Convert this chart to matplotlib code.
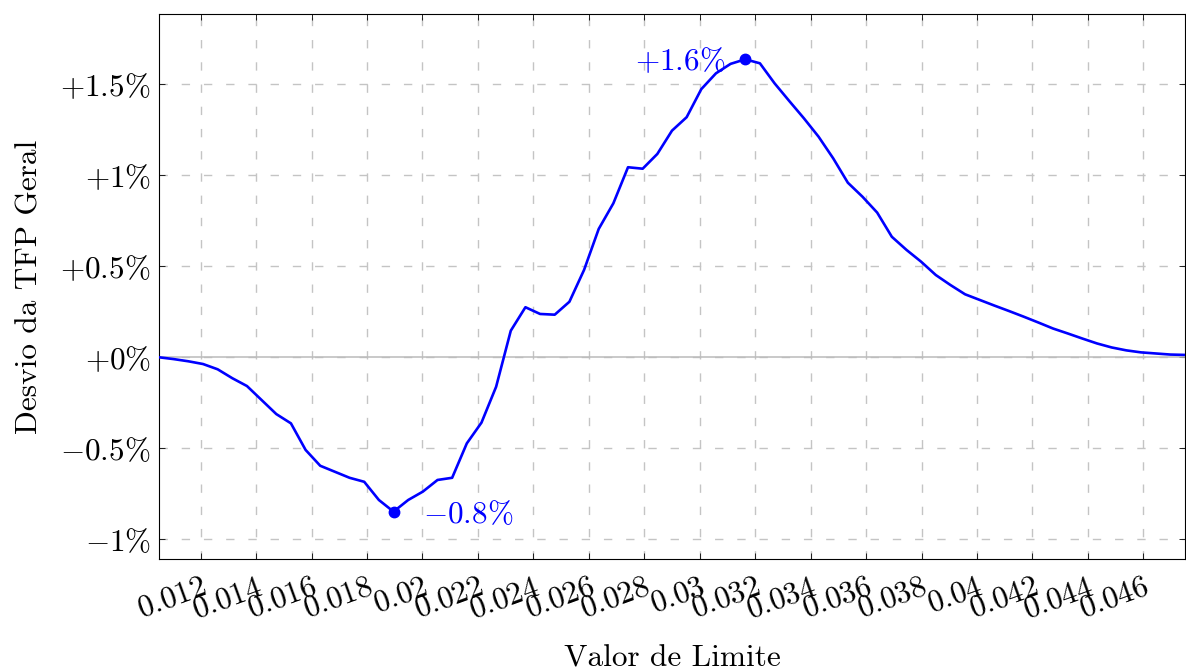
import matplotlib
matplotlib.use('Agg')
import matplotlib.pyplot as plt
import numpy as np

plt.rcParams['font.family'] = 'serif'
plt.rcParams['font.serif'] = ['cmr10', 'DejaVu Serif']
plt.rcParams['mathtext.fontset'] = 'cm'
plt.rcParams['axes.unicode_minus'] = False

# valor de limite (x) e desvio da TFP geral em % (y)
limite = [0.010500, 0.011029, 0.011557, 0.012086, 0.012614, 0.013143, 0.013671, 0.014200,
          0.014729, 0.015257, 0.015786, 0.016314, 0.016843, 0.017371, 0.017900, 0.018429,
          0.018957, 0.019486, 0.020014, 0.020543, 0.021071, 0.021600, 0.022129, 0.022657,
          0.023186, 0.023714, 0.024243, 0.024771, 0.025300, 0.025829, 0.026357, 0.026886,
          0.027414, 0.027943, 0.028471, 0.029000, 0.029529, 0.030057, 0.030586, 0.031114,
          0.031643, 0.032171, 0.032700, 0.033229, 0.033757, 0.034286, 0.034814, 0.035343,
          0.035871, 0.036400, 0.036929, 0.037457, 0.037986, 0.038514, 0.039043, 0.039571,
          0.040100, 0.040629, 0.041157, 0.041686, 0.042214, 0.042743, 0.043271, 0.043800,
          0.044329, 0.044857, 0.045386, 0.045914, 0.046443, 0.046971, 0.047500]
desvio = [0.000, -0.010, -0.022, -0.037, -0.066, -0.115, -0.158, -0.235,
          -0.312, -0.363, -0.509, -0.596, -0.629, -0.662, -0.684, -0.784,
          -0.848, -0.784, -0.738, -0.674, -0.662, -0.473, -0.359, -0.162,
          0.146, 0.275, 0.238, 0.234, 0.305, 0.480, 0.705, 0.846,
          1.044, 1.036, 1.117, 1.245, 1.319, 1.473, 1.560, 1.612,
          1.637, 1.615, 1.505, 1.408, 1.313, 1.212, 1.093, 0.959,
          0.882, 0.795, 0.662, 0.590, 0.525, 0.452, 0.397, 0.346,
          0.315, 0.284, 0.254, 0.223, 0.191, 0.158, 0.131, 0.103,
          0.076, 0.054, 0.038, 0.027, 0.021, 0.015, 0.013]

xticks = [0.012, 0.014, 0.016, 0.018, 0.02, 0.022, 0.024, 0.026, 0.028,
          0.03, 0.032, 0.034, 0.036, 0.038, 0.04, 0.042, 0.044, 0.046]
yticks = [-1, -0.5, 0, 0.5, 1, 1.5]
ylabels = [r'$-1\%$', r'$-0.5\%$', r'$+0\%$', r'$+0.5\%$', r'$+1\%$', r'$+1.5\%$']

fig = plt.figure(figsize=(11.86, 6.72), dpi=100)
ax = fig.add_axes([0.1341, 0.1682, 0.8650, 0.8110])

ax.axhline(0, color='#bbbbbb', lw=1.1, zorder=1)
ax.plot(limite, desvio, color='blue', lw=1.9, zorder=3)

i_min = int(np.argmin(desvio))
i_max = int(np.argmax(desvio))
ax.plot([limite[i_min], limite[i_max]], [desvio[i_min], desvio[i_max]], 'o',
        color='blue', ms=7.5, zorder=4)
ax.annotate(r'$%+.1f\%%$' % desvio[i_max], (limite[i_max], desvio[i_max]),
            xytext=(-14.5, -1), textcoords='offset points', ha='right', va='center',
            color='blue', fontsize=22.5)
ax.annotate(r'$%+.1f\%%$' % desvio[i_min], (limite[i_min], desvio[i_min]),
            xytext=(21, -2), textcoords='offset points', ha='left', va='center',
            color='blue', fontsize=22.5)

ax.set_xlim(0.0105, 0.0475)
ax.set_ylim(-1.108, 1.886)
ax.set_xticks(xticks)
ax.set_xticklabels(['$%g$' % t for t in xticks], rotation=20, ha='right', va='top',
                   rotation_mode='anchor', fontsize=22.5)
ax.set_yticks(yticks)
ax.set_yticklabels(ylabels, fontsize=22.5)

ax.grid(True, color='#c4c4c4', lw=1.0, linestyle=(0, (6, 10)))
ax.set_axisbelow(True)
ax.tick_params(direction='in', length=4, width=0.6, top=True, right=True)
ax.tick_params(axis='x', pad=10)
ax.tick_params(axis='y', pad=6)
for s in ax.spines.values():
    s.set_linewidth(0.8)

ax.set_xlabel('Valor de Limite', fontsize=22.5, labelpad=15)
ax.set_ylabel('Desvio da TFP Geral', fontsize=22.5, labelpad=12)

fig.savefig('out.png', dpi=100)
